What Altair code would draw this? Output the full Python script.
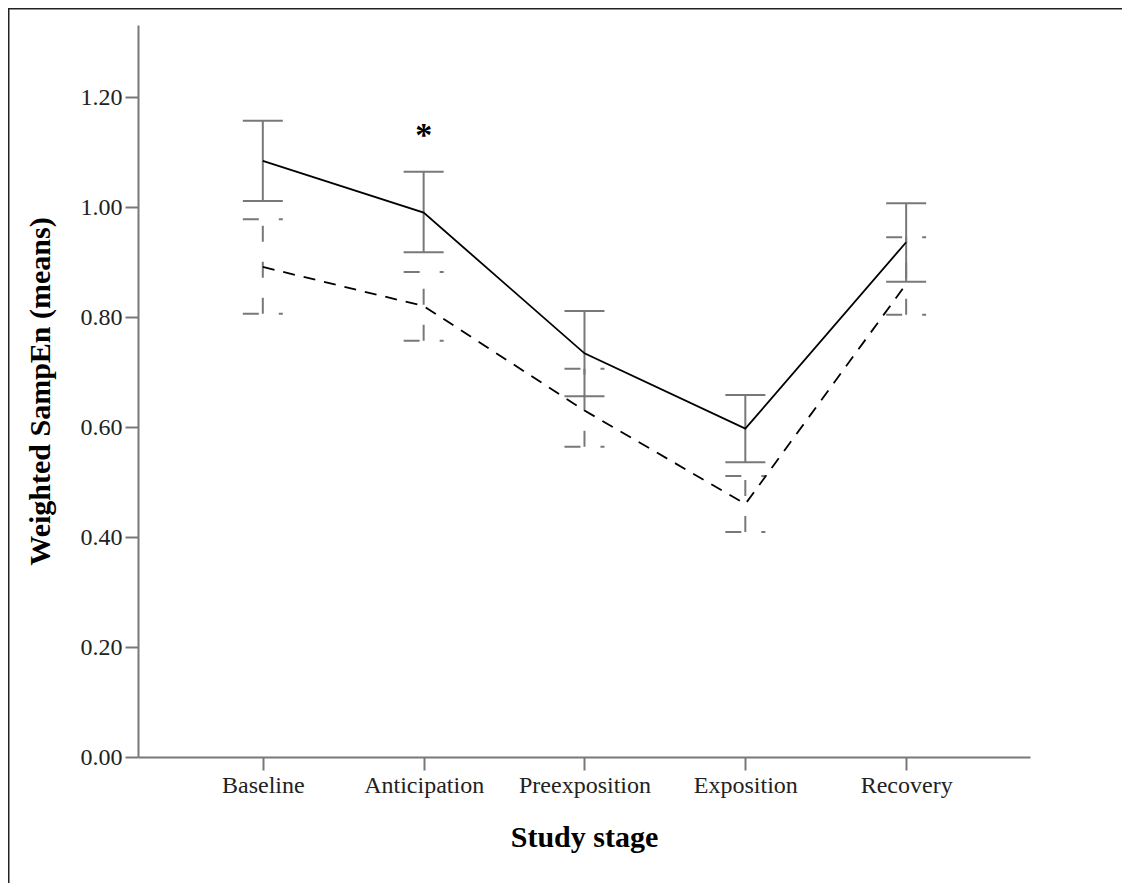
import altair as alt
import pandas as pd

stages = ["Baseline", "Anticipation", "Preexposition", "Exposition", "Recovery"]
stage_pos = [1, 2, 3, 4, 5]

solid_mean = [1.084, 0.990, 0.734, 0.597, 0.936]
solid_hi = [1.157, 1.064, 0.811, 0.658, 1.007]
solid_lo = [1.011, 0.918, 0.656, 0.536, 0.864]

dash_mean = [0.891, 0.820, 0.630, 0.460, 0.860]
dash_hi = [0.978, 0.882, 0.706, 0.511, 0.945]
dash_lo = [0.806, 0.757, 0.564, 0.409, 0.804]

star_pos = [2]
star_value = [1.13]
star_text = ["*"]

solid = pd.DataFrame({"pos": stage_pos, "stage": stages, "mean": solid_mean, "hi": solid_hi, "lo": solid_lo})
dash = pd.DataFrame({"pos": stage_pos, "stage": stages, "mean": dash_mean, "hi": dash_hi, "lo": dash_lo})
star = pd.DataFrame({"pos": star_pos, "v": star_value, "t": star_text})

FONT = "Liberation Serif"
GRAY = "#787878"

label_expr = "[" + ",".join("'%s'" % s for s in stages) + "][datum.value - 1]"

xscale = alt.Scale(domain=[0.224, 5.77], nice=False, zero=False)
yscale = alt.Scale(domain=[0, 1.331], nice=False, zero=True)

x_enc = alt.X("pos:Q", scale=xscale,
              axis=alt.Axis(title="Study stage", labelAngle=0, grid=False,
                            values=stage_pos, labelExpr=label_expr,
                            titleY=80, titleBaseline="middle"))
y_enc = alt.Y("mean:Q", scale=yscale,
              axis=alt.Axis(title="Weighted SampEn (means)", format=".2f",
                            values=[0, 0.2, 0.4, 0.6, 0.8, 1.0, 1.2], grid=False,
                            titleX=-98, titleY=366, titleBaseline="middle"))

base_s = alt.Chart(solid)
base_d = alt.Chart(dash)

# solid error bars
s_vert = base_s.mark_rule(color=GRAY, strokeWidth=2).encode(
    x=x_enc, y=alt.Y("lo:Q", scale=yscale), y2="hi:Q")
s_cap_hi = base_s.mark_rule(color=GRAY, strokeWidth=2, xOffset=-20, x2Offset=20).encode(
    x=x_enc, x2="pos:Q", y=alt.Y("hi:Q", scale=yscale))
s_cap_lo = base_s.mark_rule(color=GRAY, strokeWidth=2, xOffset=-20, x2Offset=20).encode(
    x=x_enc, x2="pos:Q", y=alt.Y("lo:Q", scale=yscale))

# dashed error bars
d_vert = base_d.mark_rule(color=GRAY, strokeWidth=2, strokeDash=[16, 20]).encode(
    x=x_enc, y=alt.Y("lo:Q", scale=yscale), y2="hi:Q")
d_cap_hi = base_d.mark_rule(color=GRAY, strokeWidth=2, strokeDash=[16, 20],
                            xOffset=-20, x2Offset=20).encode(
    x=x_enc, x2="pos:Q", y=alt.Y("hi:Q", scale=yscale))
d_cap_lo = base_d.mark_rule(color=GRAY, strokeWidth=2, strokeDash=[16, 20],
                            xOffset=-20, x2Offset=20).encode(
    x=x_enc, x2="pos:Q", y=alt.Y("lo:Q", scale=yscale))

s_line = base_s.mark_line(color="black", strokeWidth=1.8).encode(x=x_enc, y=y_enc)
d_line = base_d.mark_line(color="black", strokeWidth=1.8, strokeDash=[12, 9]).encode(x=x_enc, y=y_enc)

star_mark = alt.Chart(star).mark_text(font=FONT, fontSize=34, fontWeight="bold",
                                       color="black", baseline="middle").encode(
    x=alt.X("pos:Q", scale=xscale),
    y=alt.Y("v:Q", scale=yscale), text="t:N")

frame_left = alt.Chart(star).mark_rule(color="#222222", strokeWidth=3).encode(
    x=alt.value(-130), y=alt.value(-17), y2=alt.value(900))
frame_top = alt.Chart(star).mark_rule(color="#222222", strokeWidth=3).encode(
    x=alt.value(-130), x2=alt.value(1000), y=alt.value(-17))

chart = alt.layer(
    s_vert, s_cap_hi, s_cap_lo, d_vert, d_cap_hi, d_cap_lo,
    d_line, s_line, star_mark, frame_left, frame_top
).properties(
    width=892, height=732,
    autosize=alt.AutoSizeParams(type="none"),
    padding={"left": 130, "top": 17, "right": 92, "bottom": 126},
).configure_view(stroke=None).configure_axis(
    labelFont=FONT, titleFont=FONT, labelFontSize=24, titleFontSize=30,
    titleFontWeight="bold", labelColor="#222222", titleColor="black",
    domainColor=GRAY, tickColor=GRAY, domainWidth=2, tickWidth=2, tickSize=13,
    labelPadding=3,
)

chart.save("out.html", embed_options={"renderer": "svg", "actions": False})
